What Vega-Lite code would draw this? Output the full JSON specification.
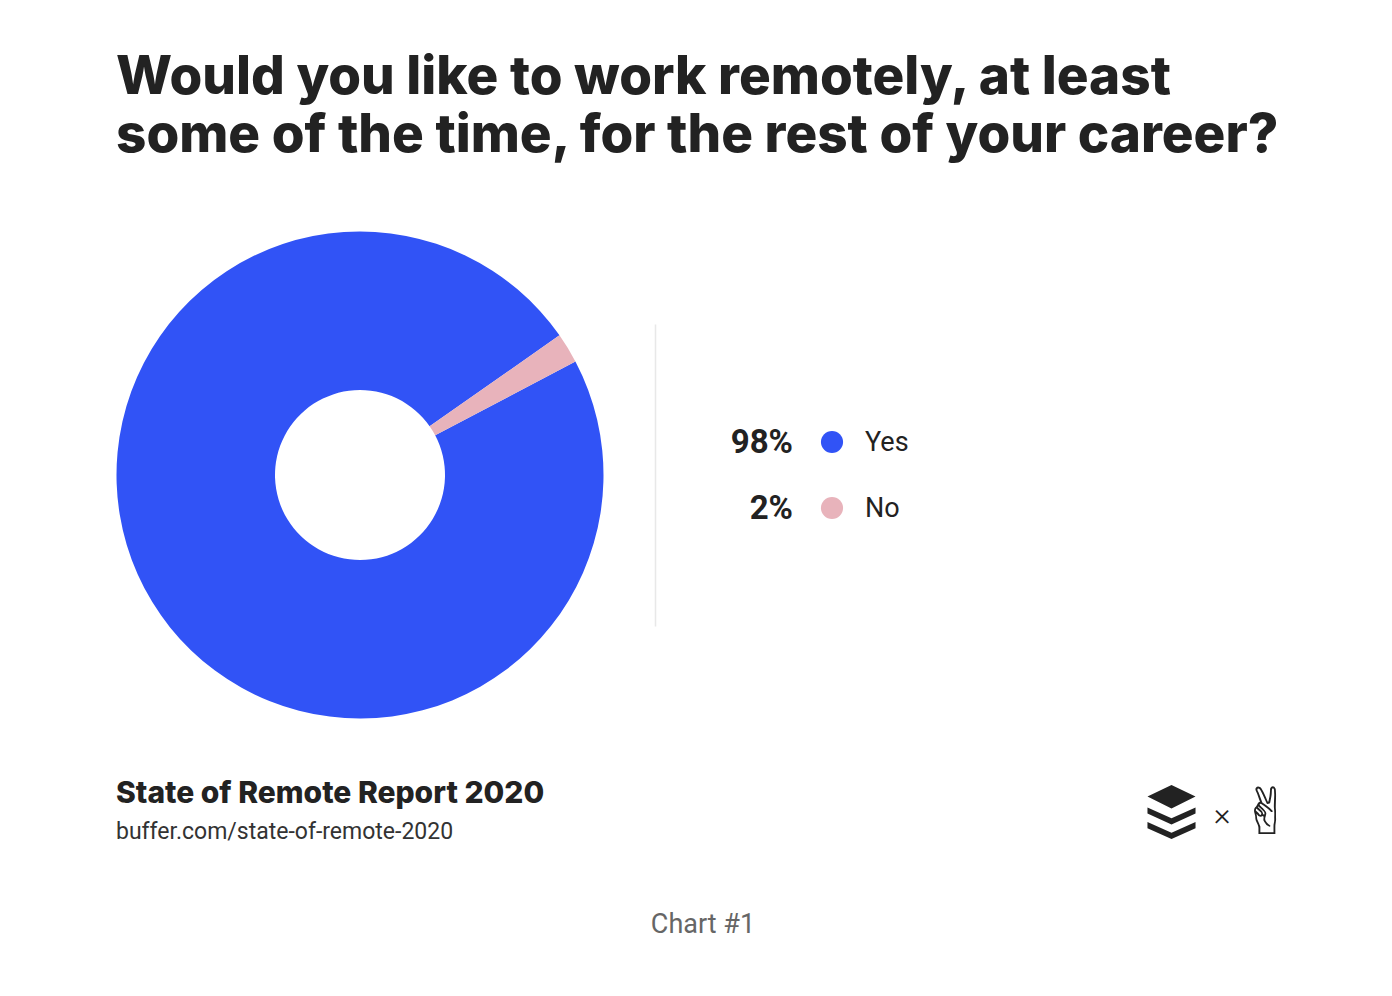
{
  "$schema": "https://vega.github.io/schema/vega-lite/v6.json",
  "background": "white",
  "padding": {"left": 116, "top": 52, "right": 0, "bottom": 0},
  "title": {
    "text": ["Would you like to work remotely, at least", "some of the time, for the rest of your career?"],
    "anchor": "start",
    "font": "Inter",
    "fontSize": 53,
    "fontWeight": 800,
    "color": "#222222",
    "lineHeight": 58,
    "offset": 68
  },
  "datasets": {
    "answers": [
      {"answer": "Yes", "share": 98, "label": "98%"},
      {"answer": "No", "share": 2, "label": "2%"}
    ]
  },
  "spacing": 60,
  "vconcat": [
    {
      "hconcat": [
        {
          "width": 488,
          "height": 488,
          "data": {"name": "answers"},
          "mark": {"type": "arc", "outerRadius": 243.5, "innerRadius": 85},
          "encoding": {
            "theta": {"field": "share", "type": "quantitative", "stack": true, "scale": {"range": [0.96, 7.2432]}},
            "color": {"field": "answer", "type": "nominal", "scale": {"domain": ["Yes", "No"], "range": ["#3153F6", "#E8B3BB"]}, "legend": null},
            "order": {"field": "answer", "sort": "ascending"}
          }
        },
        {
          "width": 354,
          "height": 302,
          "data": {"name": "answers"},
          "encoding": {
            "y": {
              "field": "answer", "type": "nominal",
              "scale": {"type": "point", "domain": [" ", "Yes", "No", "  "], "padding": 0.79},
              "axis": {"title": null, "labels": false, "ticks": false, "grid": false, "domain": true, "domainColor": "#e8e8e8", "domainWidth": 1.5}
            }
          },
          "layer": [
            {
              "mark": {"type": "point", "shape": "circle", "filled": true, "size": 490, "opacity": 1},
              "encoding": {
                "color": {"field": "answer", "type": "nominal", "scale": {"domain": ["Yes", "No"], "range": ["#3153F6", "#E8B3BB"]}, "legend": null}
              }
            },
            {
              "mark": {"type": "text", "align": "right", "baseline": "middle", "dx": -39, "dy": 1, "font": "Roboto", "fontSize": 33, "fontWeight": "bold", "color": "#222222"},
              "encoding": {"text": {"field": "label"}}
            },
            {
              "mark": {"type": "text", "align": "left", "baseline": "middle", "dx": 33, "dy": 1, "font": "Roboto", "fontSize": 27, "color": "#222222"},
              "encoding": {"text": {"field": "answer"}}
            }
          ]
        }
      ],
      "spacing": 51,
      "center": true
    },
    {
      "width": 1174,
      "height": 56,
      "title": {
        "text": "State of Remote Report 2020",
        "subtitle": "buffer.com/state-of-remote-2020",
        "anchor": "start",
        "font": "Inter",
        "fontSize": 30,
        "fontWeight": 800,
        "color": "#222222",
        "subtitleFont": "Roboto",
        "subtitleFontSize": 23,
        "subtitleColor": "#333333",
        "subtitlePadding": 12,
        "offset": -61
      },
      "layer": [
        {
          "data": {"values": [{"logo": "buffer"}]},
          "mark": {
            "type": "point", "filled": true, "opacity": 1, "color": "#222222", "size": 2916, "xOffset": 468.5, "yOffset": -3,
            "shape": "M0,-1L0.89,-0.57L0,-0.13L-0.89,-0.57Z M-0.89,-0.17L0,0.23L0.89,-0.17L0.89,0.06L0,0.46L-0.89,0.06Z M-0.89,0.37L0,0.77L0.89,0.37L0.89,0.6L0,1L-0.89,0.6Z"
          },
          "encoding": {}
        },
        {
          "data": {"values": [{"sym": "×", "name": "x"}]},
          "mark": {"type": "text", "align": "center", "baseline": "middle", "xOffset": 519, "font": "Roboto", "fontWeight": 300, "fontSize": 32, "color": "#222222"},
          "encoding": {"text": {"field": "sym"}}
        },
        {
          "data": {"values": [{"sym": "✌", "name": "peace"}]},
          "mark": {"type": "text", "align": "center", "baseline": "middle", "xOffset": 564, "font": "DejaVu Sans", "fontWeight": "bold", "fontSize": 64, "color": "#222222"},
          "encoding": {"text": {"field": "sym"}}
        }
      ]
    },
    {
      "width": 1174,
      "height": 36,
      "data": {"values": [{"caption": "Chart #1"}]},
      "mark": {"type": "text", "align": "center", "baseline": "middle", "font": "Roboto", "fontSize": 27, "color": "#666666"},
      "encoding": {"text": {"field": "caption"}}
    }
  ],
  "config": {"view": {"stroke": null}}
}
